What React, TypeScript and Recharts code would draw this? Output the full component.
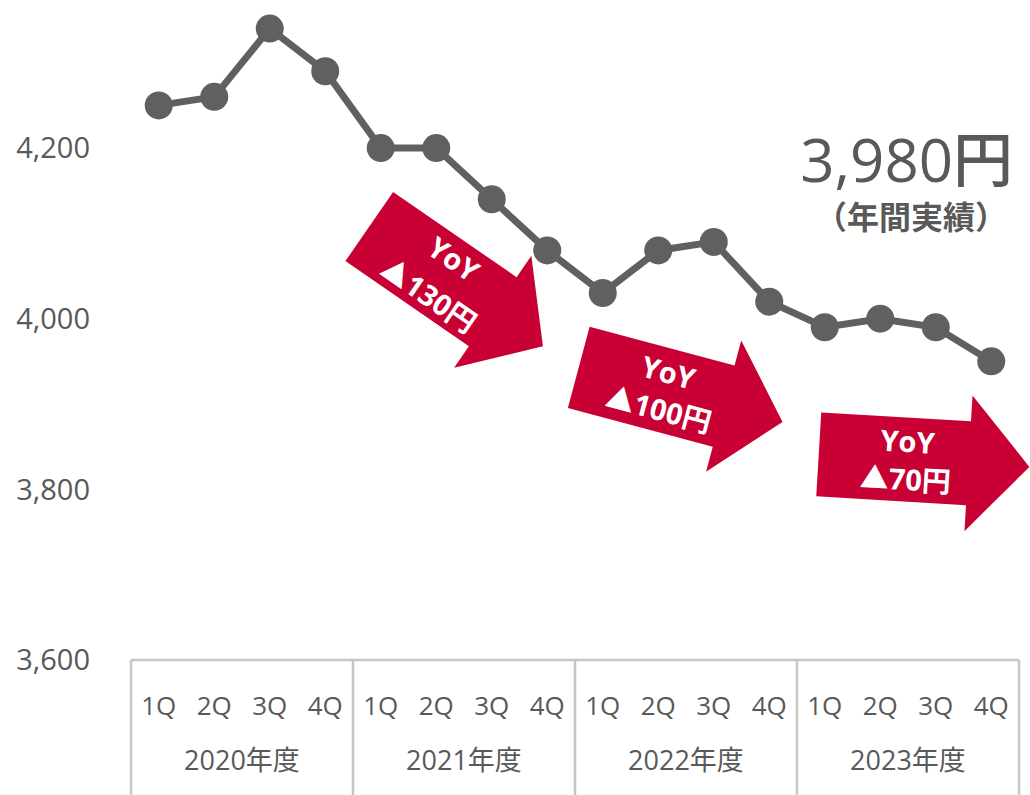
import React from 'react';
import { LineChart, Line, XAxis, YAxis, ReferenceDot } from 'recharts';

const fiscalYears = ['2020年度', '2021年度', '2022年度', '2023年度'];
const quarters = ['1Q', '2Q', '3Q', '4Q'];
const unitPrice = [
  4250, 4260, 4340, 4290,
  4200, 4200, 4140, 4080,
  4030, 4080, 4090, 4020,
  3990, 4000, 3990, 3950,
];
const yTicks = [3600, 3800, 4000, 4200];
const yoyLabels = ['▲130円', '▲100円', '▲70円'];
const yoyAnchorCategory = ['2021年度-1Q', '2022年度-1Q', '2023年度-1Q'];
const yoyAnchorValue = [4108, 3943, 3841];
const yoyAngle = [34.6, 15, 3.4];
const yoyDx = [-11.5, -24, -6];
const yoyLineGap = [22, 19, 19];
const annualTotal = '3,980円';
const annualCaption = '（年間実績）';

const data = fiscalYears.flatMap((fy, i) =>
  quarters.map((q, j) => ({ key: `${fy}-${q}`, fy, q, value: unitPrice[i * 4 + j] }))
);

const W = 1030;
const H = 795;
const M_LEFT = 131;
const M_RIGHT = 11;
const PLOT_W = W - M_LEFT - M_RIGHT;
const BW = PLOT_W / data.length;
const AXIS_H = 135;
const FONT = "'Open Sans', 'Noto Sans CJK JP', sans-serif";
const GRAY = '#595959';
const BOX = '#c6c6c6';
const RED = '#c80034';

const XTick = (props: any) => {
  const { x, y, index } = props;
  const d = data[index];
  if (!d) return null;
  const first = index % 4 === 0;
  return (
    <g>
      <text x={x} y={y + 45} textAnchor="middle" dominantBaseline="central" fontSize={26} fill={GRAY} fontFamily={FONT}>
        {d.q}
      </text>
      {first && (
        <line x1={x - BW / 2} x2={x - BW / 2} y1={y} y2={y + AXIS_H} stroke={BOX} strokeWidth={2.5} />
      )}
      {first && (
        <text x={x + 1.5 * BW} y={y + 99} textAnchor="middle" dominantBaseline="central" fontSize={27} fill={GRAY} fontFamily={FONT}>
          {d.fy}
        </text>
      )}
      {index === data.length - 1 && (
        <line x1={x + BW / 2} x2={x + BW / 2} y1={y} y2={y + AXIS_H} stroke={BOX} strokeWidth={2.5} />
      )}
    </g>
  );
};

const makeArrow = (i: number) => (props: any) => {
  const { cx, cy } = props;
  if (cx == null || cy == null) return null;
  const pts = '0,-42 150,-42 150,-68 211,0 150,68 150,42 0,42';
  const g = yoyLineGap[i];
  return (
    <g transform={`translate(${cx + yoyDx[i]},${cy}) rotate(${yoyAngle[i]})`}>
      <polygon points={pts} fill={RED} />
      <text x={88} y={-g} textAnchor="middle" dominantBaseline="central" fontSize={29} fontWeight={700} fill="#fff" fontFamily={FONT}>
        YoY
      </text>
      <text x={88} y={g} textAnchor="middle" dominantBaseline="central" fontSize={29} fontWeight={700} fill="#fff" fontFamily={FONT}>
        {yoyLabels[i]}
      </text>
    </g>
  );
};

export default function App() {
  return (
    <div style={{ position: 'absolute', left: 0, top: 0, width: W, height: H, background: '#fff' }}>
      <LineChart width={W} height={H} data={data} margin={{ top: 3, right: M_RIGHT, bottom: 0, left: 0 }}>
        <XAxis
          dataKey="key"
          height={AXIS_H}
          interval={0}
          padding={{ left: BW / 2, right: BW / 2 }}
          tick={<XTick />}
          tickLine={false}
          tickSize={0}
          tickMargin={0}
          axisLine={{ stroke: BOX, strokeWidth: 2.5 }}
        />
        <YAxis
          width={M_LEFT}
          domain={[3600, 4370]}
          ticks={yTicks}
          allowDataOverflow
          axisLine={false}
          tickLine={false}
          tickSize={6}
          tickMargin={35}
          tickFormatter={(v: number) => v.toLocaleString('en-US')}
          tick={{ fontSize: 29, fill: GRAY, fontFamily: FONT }}
        />
        {yoyLabels.map((_, i) => (
          <ReferenceDot
            key={i}
            x={yoyAnchorCategory[i]}
            y={yoyAnchorValue[i]}
            r={0}
            ifOverflow="visible"
            shape={makeArrow(i)}
          />
        ))}
        <Line
          dataKey="value"
          stroke="#606060"
          strokeWidth={7}
          dot={{ r: 14, fill: '#606060', stroke: 'none' }}
          activeDot={false}
          isAnimationActive={false}
        />
      </LineChart>
      <svg width={W} height={H} style={{ position: 'absolute', left: 0, top: 0, pointerEvents: 'none' }}>
        <text x={1013} y={182} textAnchor="end" fontSize={60} fontWeight={500} fill={GRAY} fontFamily={FONT}>
          {annualTotal}
        </text>
        <text x={911} y={216} textAnchor="middle" dominantBaseline="central" fontSize={32} fontWeight={700} fill={GRAY} fontFamily={FONT}>
          {annualCaption}
        </text>
      </svg>
    </div>
  );
}
